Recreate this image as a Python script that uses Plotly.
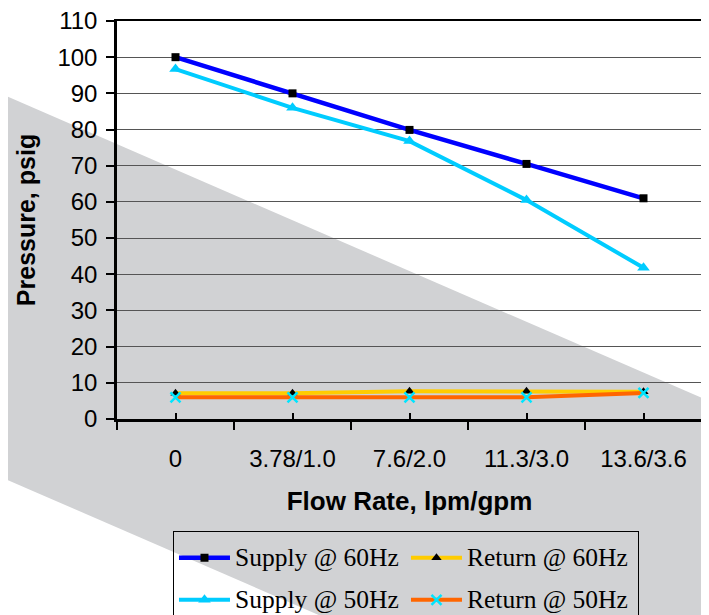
import plotly.graph_objects as go

# ---- data ----
categories = ["0", "3.78/1.0", "7.6/2.0", "11.3/3.0", "13.6/3.6"]
supply_60 = [100, 90.0, 79.9, 70.5, 61.0]
supply_50 = [96.7, 86.0, 76.8, 60.5, 41.8]
return_60 = [7.1, 7.1, 7.7, 7.7, 7.5]
return_50 = [6.0, 6.0, 6.0, 6.0, 7.2]
y_ticks = list(range(0, 111, 10))

names = ["Supply @ 60Hz", "Return @ 60Hz", "Supply @ 50Hz", "Return @ 50Hz"]

TICK_FONT = dict(family="Liberation Sans, Arial", size=24, color="black")
YTITLE_FONT = dict(family="Liberation Sans, Arial", size=25, color="black")
XTITLE_FONT = dict(family="Liberation Sans, Arial", size=26, color="black")


def lg(name):
    return '<span style="font-size:25.5px;baseline-shift:4px">' + name + "</span>"


fig = go.Figure()

# drawing order: returns first, then supplies (blue on top)
fig.add_trace(go.Scatter(
    x=categories, y=return_60, name=lg(names[1]), legendrank=2, mode="lines+markers",
    line=dict(color="#FFCC00", width=4),
    marker=dict(symbol="triangle-up", size=9, color="black")))
fig.add_trace(go.Scatter(
    x=categories, y=return_50, name=lg(names[3]), legendrank=4, mode="lines+markers",
    line=dict(color="#FF6600", width=4),
    marker=dict(symbol="x-thin", size=10, color="#00E5FF",
                line=dict(color="#00E5FF", width=2.5))))
fig.add_trace(go.Scatter(
    x=categories, y=supply_50, name=lg(names[2]), legendrank=3, mode="lines+markers",
    line=dict(color="#00CCFF", width=4),
    marker=dict(symbol="triangle-up", size=11, color="#00CCFF")))
fig.add_trace(go.Scatter(
    x=categories, y=supply_60, name=lg(names[0]), legendrank=1, mode="lines+markers",
    line=dict(color="#0000FF", width=4.5),
    marker=dict(symbol="square", size=8, color="black")))

# empty traces so the frame / inner-tick overlay axes get drawn
for xa, ya in (("x2", "y"), ("x", "y2"), ("x3", "y")):
    fig.add_trace(go.Scatter(x=[], y=[], xaxis=xa, yaxis=ya, showlegend=False,
                             hoverinfo="skip", mode="lines"))

# gray diagonal background band (decoration, paper coordinates)
fig.add_shape(
    type="path", xref="paper", yref="paper", layer="below",
    path="M -0.22 0.8311 L 1.03 0.0337 L 1.03 -0.9296 L -0.22 -0.1322 Z",
    fillcolor="#D1D2D4", line=dict(width=0))

n = len(categories)
# the page body has an 8px margin, so the figure is 8px smaller than the window
fig.update_layout(
    width=701, height=607,
    margin=dict(l=109, r=7, t=13, b=196, autoexpand=False),
    paper_bgcolor="white",
    plot_bgcolor="rgba(0,0,0,0)",
    showlegend=True,
    legend=dict(
        orientation="h", x=0.0957, y=-0.281, xanchor="left", yanchor="top",
        bordercolor="black", borderwidth=1, bgcolor="rgba(0,0,0,0)",
        font=dict(family="Liberation Serif, Times New Roman", size=30, color="black"),
        itemwidth=51, entrywidth=166, traceorder="normal",
    ),
    xaxis=dict(
        type="category", categoryorder="array", categoryarray=categories,
        range=[-0.5, n - 0.5], tickson="boundaries",
        ticks="outside", ticklen=8, tickwidth=2, tickcolor="black",
        showline=True, linewidth=3, linecolor="black",
        showgrid=False, tickfont=TICK_FONT, ticklabelstandoff=16,
        title=dict(text="<b>Flow Rate, lpm/gpm</b>", font=XTITLE_FONT, standoff=22),
        automargin=False,
    ),
    xaxis2=dict(
        overlaying="x", anchor="y", side="top", range=[-0.5, n - 0.5],
        showline=True, linewidth=2, linecolor="black",
        ticks="", showticklabels=False, showgrid=False, zeroline=False,
    ),
    xaxis3=dict(
        overlaying="x", anchor="y", side="bottom", range=[-0.5, n - 0.5],
        tickmode="array", tickvals=list(range(n)),
        ticks="inside", ticklen=6, tickwidth=2, tickcolor="black",
        showline=False, showticklabels=False, showgrid=False, zeroline=False,
    ),
    yaxis=dict(
        range=[0, 110], tickmode="array", tickvals=y_ticks,
        ticks="outside", ticklen=8, tickwidth=2, tickcolor="black",
        showline=True, linewidth=2.5, linecolor="black",
        showgrid=True, gridcolor="#555555", gridwidth=1, zeroline=False,
        tickfont=TICK_FONT, ticklabelstandoff=4, ticklabeloverflow="allow",
        title=dict(text="<b>Pressure, psig</b>", font=YTITLE_FONT, standoff=15),
        automargin=False,
    ),
    yaxis2=dict(
        overlaying="y", anchor="x", side="right", range=[0, 110],
        showline=True, linewidth=2, linecolor="black",
        ticks="", showticklabels=False, showgrid=False, zeroline=False,
    ),
)

fig.write_html("out.html")
